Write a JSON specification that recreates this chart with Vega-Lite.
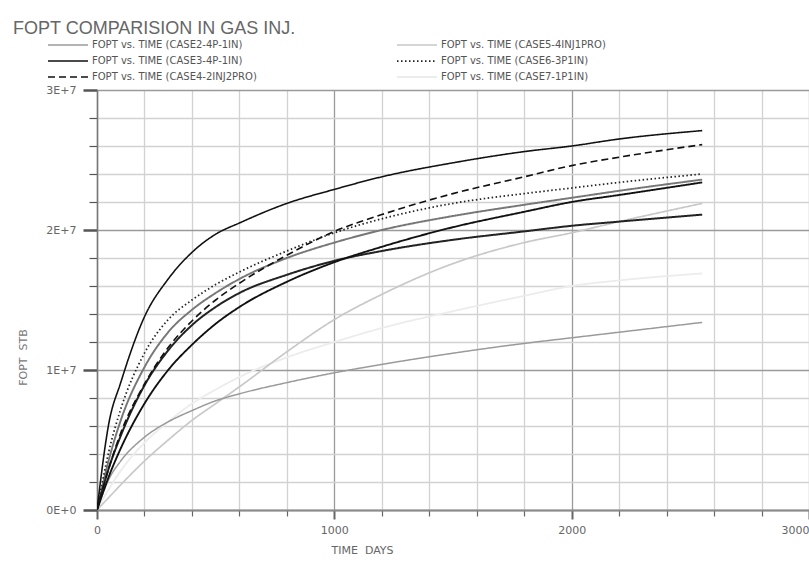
{
  "$schema": "https://vega.github.io/schema/vega-lite/v6.json",
  "width": 712,
  "height": 420,
  "autosize": {"type": "none"},
  "padding": {"left": 97, "top": 90, "right": 0, "bottom": 56},
  "background": "white",
  "title": {"text": "FOPT COMPARISION IN GAS INJ.", "anchor": "start", "frame": "group", "dx": -84, "offset": -12, "baseline": "alphabetic", "font": "Liberation Sans", "fontSize": 18, "fontWeight": "normal", "color": "#666666"},
  "data": {"values": [
    {"s":"CASE7-1P1IN","t":0,"v":0},{"s":"CASE7-1P1IN","t":50,"v":1500000},{"s":"CASE7-1P1IN","t":100,"v":2800000},{"s":"CASE7-1P1IN","t":200,"v":4800000},{"s":"CASE7-1P1IN","t":300,"v":6300000},{"s":"CASE7-1P1IN","t":400,"v":7600000},{"s":"CASE7-1P1IN","t":500,"v":8600000},{"s":"CASE7-1P1IN","t":600,"v":9500000},{"s":"CASE7-1P1IN","t":800,"v":10900000},{"s":"CASE7-1P1IN","t":1000,"v":12000000},{"s":"CASE7-1P1IN","t":1200,"v":13000000},{"s":"CASE7-1P1IN","t":1500,"v":14200000},{"s":"CASE7-1P1IN","t":1800,"v":15300000},{"s":"CASE7-1P1IN","t":2000,"v":16000000},{"s":"CASE7-1P1IN","t":2200,"v":16400000},{"s":"CASE7-1P1IN","t":2550,"v":16900000},
    {"s":"CASE5-4INJ1PRO","t":0,"v":0},{"s":"CASE5-4INJ1PRO","t":50,"v":900000},{"s":"CASE5-4INJ1PRO","t":100,"v":1800000},{"s":"CASE5-4INJ1PRO","t":200,"v":3500000},{"s":"CASE5-4INJ1PRO","t":300,"v":5000000},{"s":"CASE5-4INJ1PRO","t":400,"v":6400000},{"s":"CASE5-4INJ1PRO","t":500,"v":7600000},{"s":"CASE5-4INJ1PRO","t":600,"v":8800000},{"s":"CASE5-4INJ1PRO","t":800,"v":11300000},{"s":"CASE5-4INJ1PRO","t":1000,"v":13600000},{"s":"CASE5-4INJ1PRO","t":1200,"v":15400000},{"s":"CASE5-4INJ1PRO","t":1500,"v":17600000},{"s":"CASE5-4INJ1PRO","t":1800,"v":19100000},{"s":"CASE5-4INJ1PRO","t":2000,"v":19800000},{"s":"CASE5-4INJ1PRO","t":2200,"v":20600000},{"s":"CASE5-4INJ1PRO","t":2550,"v":21900000},
    {"s":"CASE2-4P-1IN","t":0,"v":0},{"s":"CASE2-4P-1IN","t":50,"v":2200000},{"s":"CASE2-4P-1IN","t":100,"v":3500000},{"s":"CASE2-4P-1IN","t":200,"v":5200000},{"s":"CASE2-4P-1IN","t":300,"v":6300000},{"s":"CASE2-4P-1IN","t":400,"v":7100000},{"s":"CASE2-4P-1IN","t":500,"v":7800000},{"s":"CASE2-4P-1IN","t":600,"v":8300000},{"s":"CASE2-4P-1IN","t":800,"v":9100000},{"s":"CASE2-4P-1IN","t":1000,"v":9800000},{"s":"CASE2-4P-1IN","t":1200,"v":10400000},{"s":"CASE2-4P-1IN","t":1500,"v":11200000},{"s":"CASE2-4P-1IN","t":1800,"v":11900000},{"s":"CASE2-4P-1IN","t":2000,"v":12300000},{"s":"CASE2-4P-1IN","t":2200,"v":12700000},{"s":"CASE2-4P-1IN","t":2550,"v":13400000},
    {"s":"CASE1-BASE","t":0,"v":0},{"s":"CASE1-BASE","t":50,"v":3600000},{"s":"CASE1-BASE","t":100,"v":6400000},{"s":"CASE1-BASE","t":200,"v":10200000},{"s":"CASE1-BASE","t":300,"v":12700000},{"s":"CASE1-BASE","t":400,"v":14300000},{"s":"CASE1-BASE","t":500,"v":15500000},{"s":"CASE1-BASE","t":600,"v":16500000},{"s":"CASE1-BASE","t":800,"v":18000000},{"s":"CASE1-BASE","t":1000,"v":19100000},{"s":"CASE1-BASE","t":1200,"v":20000000},{"s":"CASE1-BASE","t":1500,"v":21000000},{"s":"CASE1-BASE","t":1800,"v":21800000},{"s":"CASE1-BASE","t":2000,"v":22300000},{"s":"CASE1-BASE","t":2200,"v":22800000},{"s":"CASE1-BASE","t":2550,"v":23600000},
    {"s":"CASE9-3P-1IN","t":0,"v":0},{"s":"CASE9-3P-1IN","t":50,"v":3000000},{"s":"CASE9-3P-1IN","t":100,"v":5300000},{"s":"CASE9-3P-1IN","t":200,"v":8900000},{"s":"CASE9-3P-1IN","t":300,"v":11400000},{"s":"CASE9-3P-1IN","t":400,"v":13200000},{"s":"CASE9-3P-1IN","t":500,"v":14500000},{"s":"CASE9-3P-1IN","t":600,"v":15500000},{"s":"CASE9-3P-1IN","t":800,"v":16800000},{"s":"CASE9-3P-1IN","t":1000,"v":17800000},{"s":"CASE9-3P-1IN","t":1200,"v":18500000},{"s":"CASE9-3P-1IN","t":1500,"v":19300000},{"s":"CASE9-3P-1IN","t":1800,"v":19900000},{"s":"CASE9-3P-1IN","t":2000,"v":20300000},{"s":"CASE9-3P-1IN","t":2200,"v":20600000},{"s":"CASE9-3P-1IN","t":2550,"v":21100000},
    {"s":"CASE8-4P-2IN","t":0,"v":0},{"s":"CASE8-4P-2IN","t":50,"v":2400000},{"s":"CASE8-4P-2IN","t":100,"v":4400000},{"s":"CASE8-4P-2IN","t":200,"v":7600000},{"s":"CASE8-4P-2IN","t":300,"v":10000000},{"s":"CASE8-4P-2IN","t":400,"v":11800000},{"s":"CASE8-4P-2IN","t":500,"v":13300000},{"s":"CASE8-4P-2IN","t":600,"v":14500000},{"s":"CASE8-4P-2IN","t":800,"v":16300000},{"s":"CASE8-4P-2IN","t":1000,"v":17700000},{"s":"CASE8-4P-2IN","t":1200,"v":18800000},{"s":"CASE8-4P-2IN","t":1500,"v":20200000},{"s":"CASE8-4P-2IN","t":1800,"v":21300000},{"s":"CASE8-4P-2IN","t":2000,"v":22000000},{"s":"CASE8-4P-2IN","t":2200,"v":22500000},{"s":"CASE8-4P-2IN","t":2550,"v":23400000},
    {"s":"CASE4-2INJ2PRO","t":0,"v":0},{"s":"CASE4-2INJ2PRO","t":50,"v":3000000},{"s":"CASE4-2INJ2PRO","t":100,"v":5500000},{"s":"CASE4-2INJ2PRO","t":200,"v":9000000},{"s":"CASE4-2INJ2PRO","t":300,"v":11600000},{"s":"CASE4-2INJ2PRO","t":400,"v":13500000},{"s":"CASE4-2INJ2PRO","t":500,"v":15000000},{"s":"CASE4-2INJ2PRO","t":600,"v":16200000},{"s":"CASE4-2INJ2PRO","t":800,"v":18200000},{"s":"CASE4-2INJ2PRO","t":1000,"v":19900000},{"s":"CASE4-2INJ2PRO","t":1200,"v":21100000},{"s":"CASE4-2INJ2PRO","t":1500,"v":22600000},{"s":"CASE4-2INJ2PRO","t":1800,"v":23800000},{"s":"CASE4-2INJ2PRO","t":2000,"v":24600000},{"s":"CASE4-2INJ2PRO","t":2200,"v":25200000},{"s":"CASE4-2INJ2PRO","t":2550,"v":26100000},
    {"s":"CASE6-3P1IN","t":0,"v":0},{"s":"CASE6-3P1IN","t":50,"v":4200000},{"s":"CASE6-3P1IN","t":100,"v":7200000},{"s":"CASE6-3P1IN","t":200,"v":11200000},{"s":"CASE6-3P1IN","t":300,"v":13600000},{"s":"CASE6-3P1IN","t":400,"v":15000000},{"s":"CASE6-3P1IN","t":500,"v":16100000},{"s":"CASE6-3P1IN","t":600,"v":17000000},{"s":"CASE6-3P1IN","t":800,"v":18500000},{"s":"CASE6-3P1IN","t":1000,"v":19800000},{"s":"CASE6-3P1IN","t":1200,"v":20800000},{"s":"CASE6-3P1IN","t":1500,"v":21900000},{"s":"CASE6-3P1IN","t":1800,"v":22600000},{"s":"CASE6-3P1IN","t":2000,"v":23000000},{"s":"CASE6-3P1IN","t":2200,"v":23400000},{"s":"CASE6-3P1IN","t":2550,"v":24000000},
    {"s":"CASE3-4P-1IN","t":0,"v":0},{"s":"CASE3-4P-1IN","t":50,"v":6200000},{"s":"CASE3-4P-1IN","t":100,"v":9100000},{"s":"CASE3-4P-1IN","t":200,"v":13800000},{"s":"CASE3-4P-1IN","t":300,"v":16500000},{"s":"CASE3-4P-1IN","t":400,"v":18400000},{"s":"CASE3-4P-1IN","t":500,"v":19700000},{"s":"CASE3-4P-1IN","t":600,"v":20500000},{"s":"CASE3-4P-1IN","t":800,"v":21900000},{"s":"CASE3-4P-1IN","t":1000,"v":22900000},{"s":"CASE3-4P-1IN","t":1200,"v":23800000},{"s":"CASE3-4P-1IN","t":1500,"v":24800000},{"s":"CASE3-4P-1IN","t":1800,"v":25600000},{"s":"CASE3-4P-1IN","t":2000,"v":26000000},{"s":"CASE3-4P-1IN","t":2200,"v":26500000},{"s":"CASE3-4P-1IN","t":2550,"v":27100000}
  ]},
  "mark": {"type": "line", "interpolate": "monotone", "clip": true},
  "encoding": {
    "x": {
      "field": "t", "type": "quantitative",
      "scale": {"domain": [0, 3000], "nice": false},
      "axis": {
        "values": [0,200,400,600,800,1000,1200,1400,1600,1800,2000,2200,2400,2600,2800,3000],
        "labelExpr": "datum.value % 1000 === 0 ? format(datum.value, 'd') : ''",
        "labelAlign": {"condition": {"test": "datum.value === 3000", "value": "right"}, "value": "center"},
        "labelFont": "DejaVu Sans", "labelFontSize": 11, "labelColor": "#666666", "labelPadding": 5,
        "labelOverlap": false, "labelBound": false,
        "title": "TIME\u00a0\u00a0DAYS", "titleFont": "DejaVu Sans", "titleFontSize": 11, "titleFontWeight": "normal", "titleColor": "#666666",
        "titleX": 265, "titleY": 40, "titleBaseline": "middle",
        "grid": true,
        "gridColor": {"condition": {"test": "datum.value % 1000 === 0", "value": "#9a9a9a"}, "value": "#d2d2d2"},
        "gridWidth": 1.3,
        "tickColor": "#666666",
        "tickSize": {"condition": {"test": "datum.value % 1000 === 0", "value": 9}, "value": 6},
        "tickWidth": {"condition": {"test": "datum.value % 1000 === 0", "value": 2}, "value": 1.2},
        "domainColor": "#8a8a8a", "domainWidth": 2
      }
    },
    "y": {
      "field": "v", "type": "quantitative",
      "scale": {"domain": [0, 30000000], "nice": false},
      "axis": {
        "values": [0,2000000,4000000,6000000,8000000,10000000,12000000,14000000,16000000,18000000,20000000,22000000,24000000,26000000,28000000,30000000],
        "labelExpr": "datum.value % 10000000 === 0 ? (datum.value === 0 ? '0E+0' : format(datum.value / 10000000, 'd') + 'E+7') : ''",
        "labelFont": "DejaVu Sans", "labelFontSize": 11, "labelColor": "#666666", "labelPadding": 7,
        "labelOverlap": false, "labelBound": false,
        "title": "FOPT\u00a0\u00a0STB", "titleFont": "DejaVu Sans", "titleFontSize": 11, "titleFontWeight": "normal", "titleColor": "#777777",
        "titleX": -74, "titleY": 267, "titleAngle": -90, "titleBaseline": "middle",
        "grid": true,
        "gridColor": {"condition": {"test": "datum.value % 10000000 === 0", "value": "#9a9a9a"}, "value": "#d2d2d2"},
        "gridWidth": 1.3,
        "tickColor": "#555555",
        "tickSize": {"condition": {"test": "datum.value % 10000000 === 0", "value": 14}, "value": 8},
        "tickWidth": {"condition": {"test": "datum.value % 10000000 === 0", "value": 2.5}, "value": 1.2},
        "domainColor": "#777777", "domainWidth": 1.5
      }
    },
    "color": {
      "field": "s", "type": "nominal",
      "scale": {
        "domain": ["CASE2-4P-1IN","CASE3-4P-1IN","CASE4-2INJ2PRO","CASE5-4INJ1PRO","CASE6-3P1IN","CASE7-1P1IN","CASE8-4P-2IN","CASE1-BASE","CASE9-3P-1IN"],
        "range": ["#9a9a9a","#111111","#111111","#c8c8c8","#222222","#ececec","#111111","#777777","#222222"]
      },
      "legend": {
        "orient": "none", "legendX": -18, "legendY": -50, "columns": 2, "title": null,
        "values": ["CASE2-4P-1IN","CASE3-4P-1IN","CASE4-2INJ2PRO","CASE5-4INJ1PRO","CASE6-3P1IN","CASE7-1P1IN"],
        "labelExpr": "'FOPT vs. TIME (' + datum.label + ')'",
        "symbolType": "M-9,0H1", "symbolSize": 64,
        "labelFont": "DejaVu Sans", "labelFontSize": 10, "labelColor": "#555555", "labelOffset": 3,
        "rowPadding": 6, "columnPadding": 136, "padding": 0, "labelLimit": 400
      }
    },
    "strokeDash": {
      "field": "s", "type": "nominal",
      "scale": {
        "domain": ["CASE2-4P-1IN","CASE3-4P-1IN","CASE4-2INJ2PRO","CASE5-4INJ1PRO","CASE6-3P1IN","CASE7-1P1IN","CASE8-4P-2IN","CASE1-BASE","CASE9-3P-1IN"],
        "range": [[1,0],[1,0],[7,4],[1,0],[1.5,2.5],[1,0],[1,0],[1,0],[1,0]]
      },
      "legend": {
        "orient": "none", "legendX": -18, "legendY": -50, "columns": 2, "title": null,
        "values": ["CASE2-4P-1IN","CASE3-4P-1IN","CASE4-2INJ2PRO","CASE5-4INJ1PRO","CASE6-3P1IN","CASE7-1P1IN"],
        "labelExpr": "'FOPT vs. TIME (' + datum.label + ')'",
        "symbolType": "M-9,0H1", "symbolSize": 64,
        "labelFont": "DejaVu Sans", "labelFontSize": 10, "labelColor": "#555555", "labelOffset": 3,
        "rowPadding": 6, "columnPadding": 136, "padding": 0, "labelLimit": 400
      }
    },
    "strokeWidth": {
      "field": "s", "type": "nominal",
      "scale": {
        "domain": ["CASE2-4P-1IN","CASE3-4P-1IN","CASE4-2INJ2PRO","CASE5-4INJ1PRO","CASE6-3P1IN","CASE7-1P1IN","CASE8-4P-2IN","CASE1-BASE","CASE9-3P-1IN"],
        "range": [1.5,2,2,1.5,2,1.5,2.5,1.5,2]
      },
      "legend": {
        "orient": "none", "legendX": -18, "legendY": -50, "columns": 2, "title": null,
        "values": ["CASE2-4P-1IN","CASE3-4P-1IN","CASE4-2INJ2PRO","CASE5-4INJ1PRO","CASE6-3P1IN","CASE7-1P1IN"],
        "labelExpr": "'FOPT vs. TIME (' + datum.label + ')'",
        "symbolType": "M-9,0H1", "symbolSize": 64,
        "labelFont": "DejaVu Sans", "labelFontSize": 10, "labelColor": "#555555", "labelOffset": 3,
        "rowPadding": 6, "columnPadding": 136, "padding": 0, "labelLimit": 400
      }
    }
  },
  "config": {"view": {"stroke": null}}
}
